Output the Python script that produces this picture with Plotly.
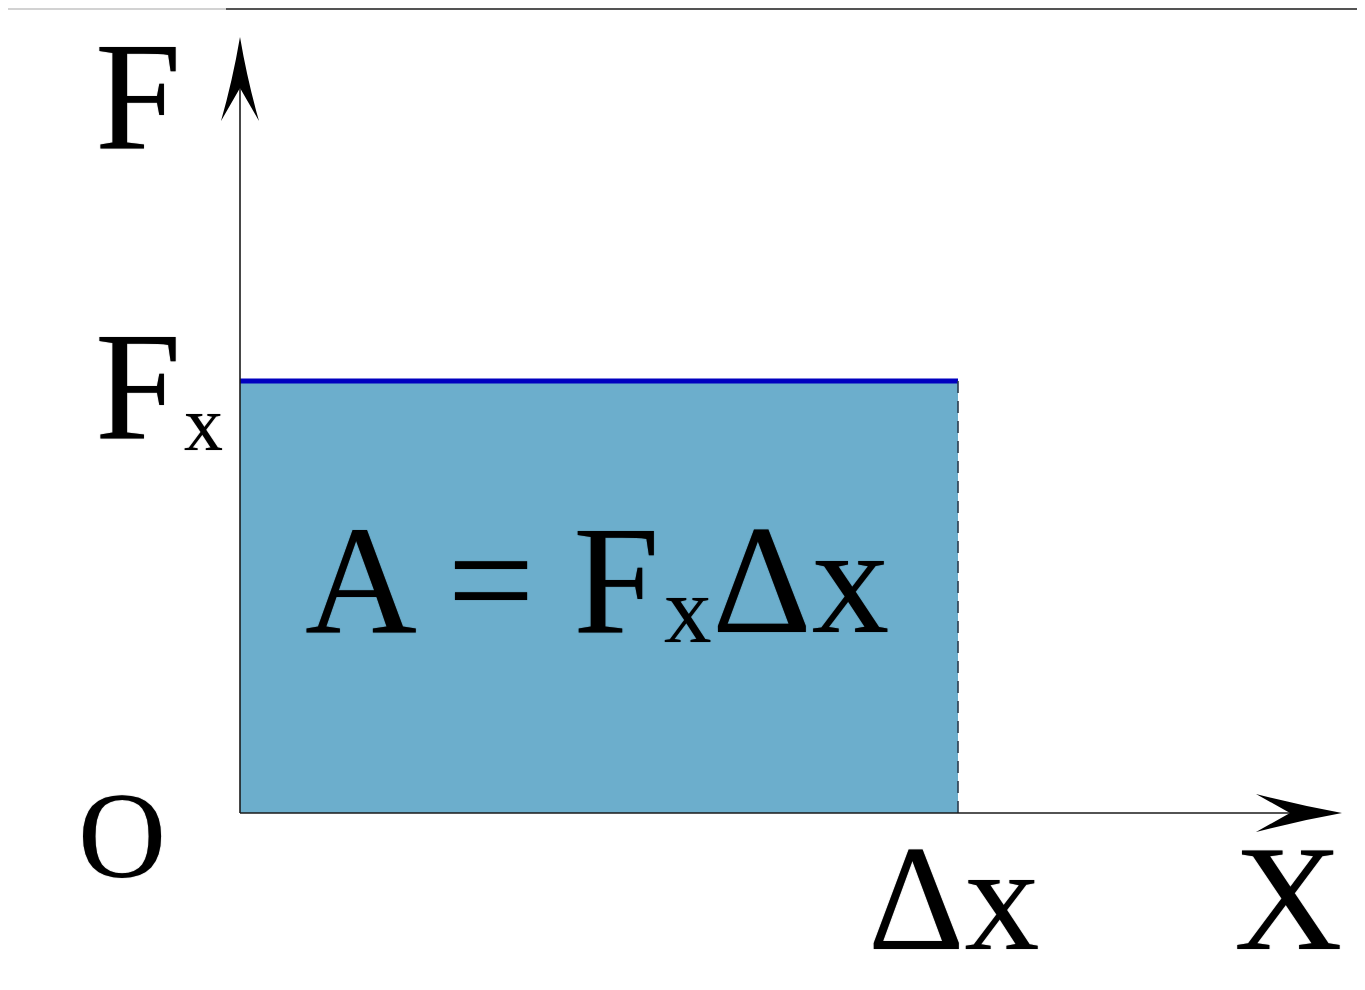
import plotly.graph_objects as go

# -- Data ---------------------------------------------------------------------
DELTA_X = 1.0                      # displacement of the block
F_X = 1.0                          # constant force along x
segment_x = [0.0, DELTA_X]         # force held constant over the displacement
force = [F_X, F_X]
edge_x = [DELTA_X, DELTA_X]        # dashed drop line at x = Δx
edge_y = [0.0, F_X]

# -- Theme --------------------------------------------------------------------
FILL_COLOR = "#6caecc"
TOP_COLOR = "#0000c0"
AXIS_COLOR = "#1a1a1a"
DASH_COLOR = "#2a3b4c"
FONT_FAMILY = "Liberation Serif, Times New Roman, serif"
SOFT = "0px 0px 1px rgba(0,0,0,0.55)"   # a touch of blur, like the scanned slide
BIG = 155

# -- Pixel frame (page pixels, the body keeps an 8px margin) ------------------
OFF = 8
FIG_W, FIG_H = 1365 - 2 * OFF, 990 - 2 * OFF
X0_PX, Y0_PX = 240, 813            # where the origin sits on the page
PX_PER_X = 718 / DELTA_X
PX_PER_Y = 432 / F_X


def px2x(px):
    return (px - X0_PX) / PX_PER_X


def py2y(py):
    return (Y0_PX - py) / PX_PER_Y


def pt(a, b):
    return f"{px2x(a):.5f},{py2y(b):.5f}"


def arrow(tip, left, notch, right, cl, cr):
    # barbed head with slightly concave flanks
    return (f"M{pt(*tip)}Q{pt(*cl)} {pt(*left)}L{pt(*notch)}"
            f"L{pt(*right)}Q{pt(*cr)} {pt(*tip)}Z")


def label(text, cx, base, size):
    # box centre of a serif line sits ~0.3375em above the baseline
    return dict(
        x=px2x(cx), y=py2y(base - 0.3375 * size), xref="x", yref="y",
        text=text, showarrow=False, xanchor="center", yanchor="middle",
        font=dict(family=FONT_FAMILY, size=size, color="black", shadow=SOFT),
    )


fig = go.Figure()

# work area under the constant force
fig.add_trace(go.Scatter(
    x=segment_x, y=force, mode="lines",
    fill="tozeroy", fillcolor=FILL_COLOR,
    line=dict(color=TOP_COLOR, width=5),
    hoverinfo="skip", showlegend=False,
))
fig.add_trace(go.Scatter(
    x=edge_x, y=edge_y, mode="lines",
    line=dict(color=DASH_COLOR, width=1.6, dash="12px,8px"),
    hoverinfo="skip", showlegend=False,
))

# axes with arrowheads
shapes = [
    dict(type="line", xref="x", yref="y", x0=0, y0=0, x1=0, y1=py2y(80),
         line=dict(color=AXIS_COLOR, width=1.6)),
    dict(type="line", xref="x", yref="y", x0=0, y0=0, x1=px2x(1300), y1=0,
         line=dict(color=AXIS_COLOR, width=1.6)),
    dict(type="path", xref="x", yref="y",
         path=arrow((240, 37), (221, 121), (240, 88), (259, 121), (232.5, 81), (247.5, 81)),
         fillcolor="black", line=dict(width=0)),
    dict(type="path", xref="x", yref="y",
         path=arrow((1342, 813), (1256, 794), (1290, 813), (1256, 832), (1300, 805.5), (1300, 820.5)),
         fillcolor="black", line=dict(width=0)),
    # slide frame remnants at the top edge
    dict(type="rect", xref="paper", yref="paper", x0=0, x1=(226 - OFF) / FIG_W,
         y0=1 - 2 / FIG_H, y1=1, fillcolor="#d2d2d2", line=dict(width=0)),
    dict(type="rect", xref="paper", yref="paper", x0=(226 - OFF) / FIG_W, x1=1,
         y0=1 - 2 / FIG_H, y1=1, fillcolor="#545454", line=dict(width=0)),
]

annotations = [
    label("F", 138, 148, BIG),
    label("F", 138, 438, BIG),
    label("x", 203, 450, 78),
    label("O", 122, 877, 122),
    label("Δx", 953, 949, 150),
    label("X", 1288, 949, 150),
    label("A = F", 482, 632, BIG),
    label("x", 688, 642, 95),
    label("Δx", 800, 632, BIG),
]

fig.update_layout(
    width=FIG_W, height=FIG_H,
    margin=dict(l=0, r=0, t=0, b=0),
    paper_bgcolor="white", plot_bgcolor="white",
    xaxis=dict(visible=False, range=[px2x(OFF), px2x(OFF + FIG_W)], fixedrange=True),
    yaxis=dict(visible=False, range=[py2y(OFF + FIG_H), py2y(OFF)], fixedrange=True),
    shapes=shapes,
    annotations=annotations,
    showlegend=False,
)

fig.write_html("out.html")
